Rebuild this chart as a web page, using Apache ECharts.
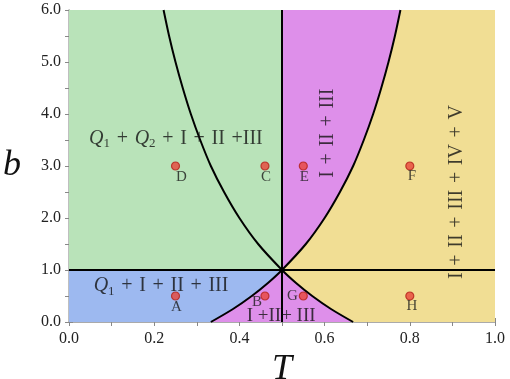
<!DOCTYPE html>
<html>
<head>
<meta charset="utf-8">
<script src="https://cdn.jsdelivr.net/npm/echarts@6/dist/echarts.min.js"></script>
<style>html,body{margin:0;padding:0;background:#fff;}#chart{width:510px;height:379px;}</style>
</head>
<body>
<div id="chart"></div>
<script>
// Phase boundary curve A (from top-left down through (0.5,1) to the T axis)
const curveA_T = [0.222,0.235,0.25,0.267,0.286,0.308,0.333,0.364,0.4,0.444,0.5,0.533,0.571,0.615,0.667];
const curveA_b = [6.0,5.5,5.0,4.5,4.0,3.5,3.0,2.5,2.0,1.5,1.0,0.75,0.5,0.25,0.0];
// Phase boundary curve B (from T axis up through (0.5,1) to the top-right)
const curveB_T = [0.333,0.385,0.429,0.467,0.5,0.556,0.6,0.636,0.667,0.692,0.714,0.733,0.75,0.765,0.778];
const curveB_b = [0.0,0.25,0.5,0.75,1.0,1.5,2.0,2.5,3.0,3.5,4.0,4.5,5.0,5.5,6.0];
// straight boundaries
const hLine_T = [0.0, 1.0];
const hLine_b = [1.0, 1.0];
const vLine_T = [0.5, 0.5];
const vLine_b = [0.0, 6.0];
// marked points
const pointNames = ['A','B','C','D','E','F','G','H'];
const pointT = [0.25,0.46,0.46,0.25,0.55,0.80,0.55,0.80];
const pointB = [0.5,0.5,3.0,3.0,3.0,3.0,0.5,0.5];
// region annotations
const S = '\u2004';
const annoText = [
  '{i|Q}{s|1}' + S + '+' + S + '{i|Q}{s|2}' + S + '+' + S + 'I' + S + '+' + S + 'II' + S + '+III',
  '{i|Q}{s|1}' + S + '+' + S + 'I' + S + '+' + S + 'II' + S + '+' + S + 'III',
  'I' + S + '+' + S + 'II' + S + '+' + S + 'III',
  'I' + S + '+' + S + 'II' + S + '+' + S + 'III' + S + '+' + S + 'IV' + S + '+' + S + 'V',
  'I +II+ III'
];
const annoT = [0.251, 0.216, 0.608, 0.911, 0.498];
const annoB = [3.52, 0.69, 3.63, 2.5, 0.12];
// axis ticks
const xMin = 0, xMax = 1, xStep = 0.1;
const yMin = 0, yMax = 6, yStep = 0.5;

const SERIF = "'Liberation Serif', 'DejaVu Serif', serif";
const zip = (a, b) => a.map((v, i) => [v, b[i]]);
const cA = zip(curveA_T, curveA_b);
const cB = zip(curveB_T, curveB_b);

// regions (polygons in data space) built from the boundaries above
const regions = [
  {color: '#f1de94', pts: [[xMin,yMin],[xMin,yMax],[xMax,yMax],[xMax,yMin]]},
  {color: '#b9e3b9', pts: [[xMin,1],[xMin,yMax],[0.5,yMax],[0.5,1]]},
  {color: '#9db9f0', pts: [[xMin,yMin],[xMin,1]].concat(cB.filter(p => p[1] <= 1).reverse())},
  {color: '#de8fea', pts: [[0.5,yMax]].concat(cB.filter(p => p[1] >= 1).reverse())},
  {color: '#de8fea', pts: cB.filter(p => p[1] <= 1).concat(cA.filter(p => p[1] < 1))}
];

const labelOffsets = {A:[1,11],B:[-8,6],C:[1,11],D:[6,11],E:[1,11],F:[2,10],G:[-11,0],H:[2,10]};
const annoRot = [0, 0, 90, 90, 0];
const annoSize = [20, 20, 20, 20, 19];

const chart = echarts.init(document.getElementById('chart'));
const lineStyle = {color: '#000', width: 2};
const option = {
  animation: false,
  grid: {left: 69, right: 15, top: 10, bottom: 57, outerBoundsMode: 'none', containLabel: false},
  xAxis: [{
    type: 'value', min: xMin, max: xMax, interval: xStep,
    name: 'T', nameLocation: 'middle', nameGap: 16,
    nameTextStyle: {fontFamily: SERIF, fontStyle: 'italic', fontSize: 36, color: '#111'},
    axisLine: {show: true, lineStyle: {color: '#aaa', width: 1}},
    axisTick: {show: true, inside: true, length: 4, lineStyle: {color: '#888'}},
    axisLabel: {fontFamily: SERIF, fontSize: 16, color: '#222', margin: 9,
      formatter: v => (Math.round(v * 10) % 2 === 0) ? v.toFixed(1) : ''},
    splitLine: {show: false}
  }, {
    type: 'value', position: 'top', min: xMin, max: xMax, interval: xStep,
    axisLine: {show: true, lineStyle: {color: '#aaa', width: 1.5}},
    axisTick: {show: true, inside: true, length: 4, lineStyle: {color: '#888'}},
    axisLabel: {show: false}, splitLine: {show: false}
  }],
  yAxis: [{
    type: 'value', min: yMin, max: yMax, interval: yStep,
    name: 'b', nameLocation: 'middle', nameGap: 48, nameRotate: 0,
    nameTextStyle: {fontFamily: SERIF, fontStyle: 'italic', fontSize: 36, color: '#111', padding: [6, 0, 0, 0]},
    axisLine: {show: true, lineStyle: {color: '#aaa', width: 1}},
    axisTick: {show: true, inside: true, length: 4, lineStyle: {color: '#888'}},
    axisLabel: {fontFamily: SERIF, fontSize: 16, color: '#222', margin: 8,
      formatter: v => (Math.round(v * 2) % 2 === 0) ? v.toFixed(1) : ''},
    splitLine: {show: false}
  }, {
    type: 'value', position: 'right', min: yMin, max: yMax, interval: yStep,
    axisLine: {show: true, lineStyle: {color: '#aaa', width: 1.5}},
    axisTick: {show: true, inside: true, length: 4, lineStyle: {color: '#888'}},
    axisLabel: {show: false}, splitLine: {show: false}
  }],
  series: [
    {
      type: 'custom', z: 1, clip: true,
      data: regions.map((r, i) => [i]),
      encode: {x: -1, y: -1},
      renderItem: (params, api) => {
        const r = regions[params.dataIndex];
        return {type: 'polygon', shape: {points: r.pts.map(p => api.coord(p))}, style: {fill: r.color}};
      }
    },
    {type: 'line', z: 3, data: zip(hLine_T, hLine_b), symbol: 'none', lineStyle: lineStyle},
    {type: 'line', z: 3, data: zip(vLine_T, vLine_b), symbol: 'none', lineStyle: lineStyle},
    {type: 'line', z: 3, data: cA, symbol: 'none', smooth: 0.3, lineStyle: lineStyle},
    {type: 'line', z: 3, data: cB, symbol: 'none', smooth: 0.3, lineStyle: lineStyle},
    {
      type: 'scatter', z: 5, symbol: 'circle', symbolSize: 8,
      itemStyle: {color: '#e8453a', borderColor: '#b3201a', borderWidth: 1.2},
      data: pointNames.map((n, i) => ({
        value: [pointT[i], pointB[i]], name: n,
        label: {show: true, position: 'inside', offset: labelOffsets[n], formatter: n,
          fontFamily: SERIF, fontSize: 15, color: '#1a1a1a'}
      }))
    },
    {
      type: 'scatter', z: 4, symbolSize: 0, silent: true,
      data: annoText.map((t, i) => ({
        value: [annoT[i], annoB[i]],
        label: {show: true, position: 'inside', rotate: annoRot[i], formatter: t,
          fontFamily: SERIF, fontSize: annoSize[i], color: '#111',
          rich: {
            i: {fontFamily: SERIF, fontStyle: 'italic', fontSize: annoSize[i], color: '#111'},
            s: {fontFamily: SERIF, fontSize: 13, color: '#111', padding: [10, 0, 0, 0]}
          }}
      }))
    }
  ]
};
chart.setOption(option);
</script>
</body>
</html>
